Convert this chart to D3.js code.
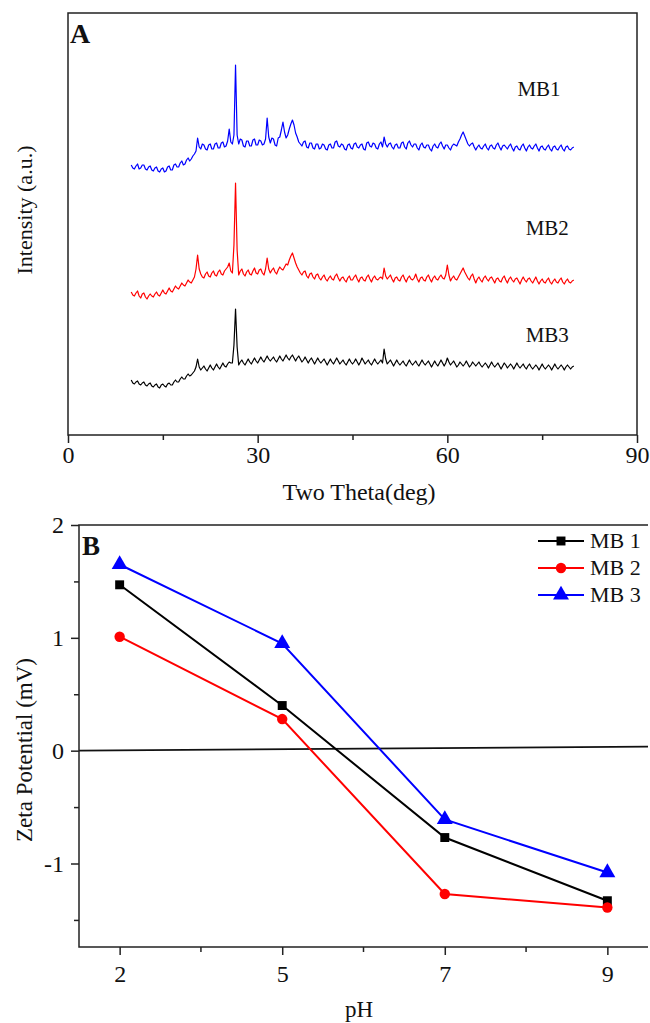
<!DOCTYPE html>
<html>
<head>
<meta charset="utf-8">
<script src="https://cdn.jsdelivr.net/npm/d3@7"></script>
<style>
  body { margin: 0; background: #fff; }
  text { font-family: "Liberation Serif", "Times New Roman", serif; fill: #111; }
</style>
</head>
<body>
<svg id="chart" width="650" height="1023"></svg>
<script>
// ---- panel A: XRD patterns, 10..80 deg sampled every 0.25 deg ----
var xrdStart = 10, xrdStep = 0.25;
var xrdTicks = [0, 30, 60, 90];
var xrdMinor = [15, 45, 75];

var mb1Xrd = [
  270,267,266,269,271,266,267,270,270,266,265,268,269,265,264,267,268,264,263,266,
  267,263,264,268,269,265,265,270,271,268,268,272,274,270,271,275,277,274,276,279,
  281,284,297,288,286,291,290,286,285,290,291,286,286,291,292,287,287,292,293,288,
  289,294,306,293,291,300,370,300,291,296,295,289,288,294,294,289,289,295,296,290,
  290,295,294,290,291,296,317,298,292,297,296,290,289,297,298,305,313,303,297,300,
  306,311,315,310,302,298,293,291,289,293,294,288,287,292,292,287,286,291,291,286,
  287,291,290,286,285,290,291,287,287,293,294,289,288,291,290,286,285,290,291,287,
  286,291,292,288,287,290,291,286,285,292,293,289,288,292,291,287,286,291,293,288,
  298,291,288,291,292,288,286,290,291,287,287,292,293,288,286,292,294,290,288,291,
  291,287,285,290,292,288,287,290,290,286,284,289,291,288,287,291,293,289,286,290,
  290,287,285,289,291,290,289,293,296,300,303,299,295,291,289,291,292,288,285,288,
  290,287,286,289,291,287,285,289,290,287,286,290,292,288,285,289,290,288,286,289,
  291,287,284,288,289,286,285,289,291,287,284,288,290,287,286,289,291,287,284,288,
  289,286,285,288,290,286,284,288,289,286,285,288,290,286,284,288,289,286,285,287,
  288
];
var mb2Xrd = [
  143,140,139,142,144,139,137,141,142,138,136,139,141,139,138,141,143,140,139,142,
  145,142,141,144,147,144,143,146,149,147,146,149,152,150,149,152,155,153,152,155,
  158,166,180,166,161,158,157,161,163,159,158,162,164,160,159,163,165,161,160,164,
  166,168,172,164,162,190,252,185,160,164,166,161,159,163,165,161,160,164,167,162,
  161,165,166,162,160,166,177,166,162,165,167,163,161,165,168,166,165,168,171,170,
  175,179,182,177,172,168,165,162,160,163,164,159,157,161,162,158,156,160,161,157,
  155,158,160,156,154,157,159,156,155,159,161,157,154,157,158,155,153,157,159,155,
  155,158,160,156,153,157,158,155,154,158,160,156,153,157,159,156,155,157,158,156,
  167,159,156,158,160,156,153,157,158,155,154,158,160,156,153,157,159,156,155,157,
  161,156,153,157,158,155,154,158,160,156,153,157,159,156,155,158,160,157,156,160,
  170,160,154,157,159,156,155,158,161,164,167,163,160,157,155,159,161,156,152,156,
  158,155,153,157,159,156,154,157,158,155,152,156,157,154,153,157,159,155,152,156,
  158,155,153,156,157,154,151,155,158,155,153,156,157,154,152,155,158,154,151,154,
  156,153,152,155,157,153,151,154,156,153,152,155,157,153,151,154,156,153,152,154,
  155
];
var mb3Xrd = [
  55,52,51,53,54,51,50,52,53,50,49,51,52,49,48,50,51,48,47,50,
  51,49,48,51,52,50,50,53,55,53,53,56,58,56,56,59,61,59,60,62,
  64,68,76,68,65,67,69,66,64,67,70,67,65,68,71,68,66,69,72,69,
  68,71,73,72,72,90,126,88,70,73,75,72,70,73,76,73,71,74,77,74,
  72,75,78,75,73,76,79,76,74,76,78,75,73,76,79,76,74,77,80,77,
  75,78,80,77,74,77,79,76,73,75,78,75,72,75,77,74,71,74,77,74,
  72,74,76,73,70,73,76,73,71,74,77,74,71,73,75,72,70,73,76,73,
  71,73,76,73,70,73,77,74,71,73,75,72,70,73,76,73,71,73,75,72,
  86,76,71,73,75,72,69,72,75,72,70,72,74,71,69,72,75,72,70,72,
  74,71,69,72,75,72,70,72,74,71,68,71,74,71,69,72,75,72,69,72,
  77,73,70,72,74,71,68,70,73,71,69,71,74,71,68,70,73,71,69,71,
  73,70,68,70,72,70,67,70,73,70,68,70,72,69,66,69,72,70,67,69,
  71,69,66,69,72,69,67,69,71,68,66,69,71,68,66,68,70,68,65,68,
  71,68,66,68,70,68,65,68,71,68,66,68,70,68,65,68,70,68,66,68,
  69
];
var xrdNames = ["MB1", "MB2", "MB3"];
var xrdLabelX = [74.5, 75.8, 75.8];  // label centres in degrees
var xrdLabelY = [339, 200, 93];      // label baselines in a.u.

// ---- panel B: zeta potential ----
var phLevels = ["2", "5", "7", "9"];
var zetaTicks = [-1, 0, 1, 2];
var zetaMinor = [-1.5, -0.5, 0.5, 1.5];
var mb1Zeta = [1.47, 0.40, -0.77, -1.33];
var mb2Zeta = [1.01, 0.28, -1.27, -1.39];
var mb3Zeta = [1.65, 0.95, -0.61, -1.08];
var zeroLine = [0, 0.035];
var zetaNames = ["MB 1", "MB 2", "MB 3"];

var colors = ["#000000", "#ff0000", "#0000ff"];
var xrdColors = ["#0000ff", "#ff0000", "#000000"];

var svg = d3.select("#chart");

// ================= panel A =================
var aL = 68, aR = 637, aT = 13, aB = 435;
var xA = d3.scaleLinear().domain([0, 90]).range([aL, aR]);
var yA = d3.scaleLinear().domain([0, 422]).range([aB, aT]);

var pA = svg.append("g");
var lineA = d3.line()
  .x(function(d, i) { return xA(xrdStart + i * xrdStep); })
  .y(function(d) { return yA(d); });

[mb1Xrd, mb2Xrd, mb3Xrd].forEach(function(s, k) {
  pA.append("path").datum(s)
    .attr("d", lineA)
    .attr("fill", "none")
    .attr("stroke", xrdColors[k])
    .attr("stroke-width", 1.2)
    .attr("stroke-linejoin", "round");
  pA.append("text")
    .attr("x", xA(xrdLabelX[k])).attr("y", yA(xrdLabelY[k]))
    .attr("text-anchor", "middle")
    .style("font-size", "21px")
    .text(xrdNames[k]);
});

pA.append("rect")
  .attr("x", aL).attr("y", aT).attr("width", aR - aL).attr("height", aB - aT)
  .attr("fill", "none").attr("stroke", "#222").attr("stroke-width", 1.5);

var axA = pA.append("g").attr("transform", "translate(0," + aB + ")")
  .call(d3.axisBottom(xA).tickValues(xrdTicks).tickSize(8).tickPadding(3).tickFormat(function(d) { return String(d); }));
axA.select(".domain").remove();
pA.append("g").attr("transform", "translate(0," + aB + ")")
  .call(d3.axisBottom(xA).tickValues(xrdMinor).tickSize(5).tickFormat(""))
  .select(".domain").remove();

pA.append("text").attr("x", 70).attr("y", 43)
  .style("font-size", "28px").style("font-weight", "bold").text("A");
pA.append("text").attr("x", 359).attr("y", 500)
  .attr("text-anchor", "middle").style("font-size", "24px").text("Two Theta(deg)");
pA.append("text")
  .attr("transform", "translate(32,210) rotate(-90)")
  .attr("text-anchor", "middle").style("font-size", "22px").text("Intensity (a.u.)");

// ================= panel B =================
var bL = 79, bR = 648, bT = 525, bB = 947;
var xB = d3.scalePoint().domain(phLevels).range([bL, bR]).padding(0.25);
var yB = d3.scaleLinear().domain([-1.74, 2]).range([bB, bT]);

var pB = svg.append("g");

pB.append("line")
  .attr("x1", bL).attr("x2", bR)
  .attr("y1", yB(zeroLine[0])).attr("y2", yB(zeroLine[1]))
  .attr("stroke", "#111").attr("stroke-width", 1.8);

var lineB = d3.line()
  .x(function(d, i) { return xB(phLevels[i]); })
  .y(function(d) { return yB(d); });

var shapes = [d3.symbolSquare, d3.symbolCircle, d3.symbolTriangle];
var sizes = [80, 85, 110];

[mb1Zeta, mb2Zeta, mb3Zeta].forEach(function(s, k) {
  pB.append("path").datum(s)
    .attr("d", lineB)
    .attr("fill", "none")
    .attr("stroke", colors[k])
    .attr("stroke-width", 2);
  pB.selectAll(null).data(s).enter().append("path")
    .attr("d", d3.symbol().type(shapes[k]).size(sizes[k]))
    .attr("transform", function(d, i) { return "translate(" + xB(phLevels[i]) + "," + yB(d) + ")"; })
    .attr("fill", colors[k]);
});

pB.append("path")
  .attr("d", "M" + bR + "," + bT + "H" + bL + "V" + bB + "H" + bR)
  .attr("fill", "none").attr("stroke", "#222").attr("stroke-width", 1.5);

var axBx = pB.append("g").attr("transform", "translate(0," + bB + ")")
  .call(d3.axisBottom(xB).tickSize(8).tickPadding(10));
axBx.select(".domain").remove();
var midsB = phLevels.slice(1).map(function(p, i) { return (xB(phLevels[i]) + xB(p)) / 2; });
pB.append("g").selectAll("line").data(midsB).enter().append("line")
  .attr("x1", function(d) { return d; }).attr("x2", function(d) { return d; })
  .attr("y1", bB).attr("y2", bB + 5).attr("stroke", "#222").attr("stroke-width", 1.5);

var axBy = pB.append("g").attr("transform", "translate(" + bL + ",0)")
  .call(d3.axisLeft(yB).tickValues(zetaTicks).tickSize(8).tickPadding(7).tickFormat(function(d) { return String(d); }));
axBy.select(".domain").remove();
pB.append("g").attr("transform", "translate(" + bL + ",0)")
  .call(d3.axisLeft(yB).tickValues(zetaMinor).tickSize(5).tickFormat(""))
  .select(".domain").remove();

pB.append("text").attr("x", 82).attr("y", 555)
  .style("font-size", "27px").style("font-weight", "bold").text("B");
pB.append("text").attr("x", 359).attr("y", 1017)
  .attr("text-anchor", "middle").style("font-size", "23px").text("pH");
pB.append("text")
  .attr("transform", "translate(32,750) rotate(-90)")
  .attr("text-anchor", "middle").style("font-size", "23px").text("Zeta Potential (mV)");

// legend
var leg = pB.append("g");
zetaNames.forEach(function(n, k) {
  var y = 541 + k * 27;
  leg.append("line").attr("x1", 538).attr("x2", 584).attr("y1", y).attr("y2", y)
    .attr("stroke", colors[k]).attr("stroke-width", 2);
  leg.append("path").attr("d", d3.symbol().type(shapes[k]).size(sizes[k]))
    .attr("transform", "translate(561," + y + ")").attr("fill", colors[k]);
  leg.append("text").attr("x", 590).attr("y", y + 7)
    .style("font-size", "22px").style("font-family", "'Liberation Serif', serif").text(n);
});

// styling for all axes
svg.selectAll(".tick line").attr("stroke", "#222").attr("stroke-width", 1.5);
svg.selectAll(".tick text").style("font-size", "24px")
  .style("font-family", "'Liberation Serif', serif").attr("fill", "#111");
</script>
</body>
</html>
